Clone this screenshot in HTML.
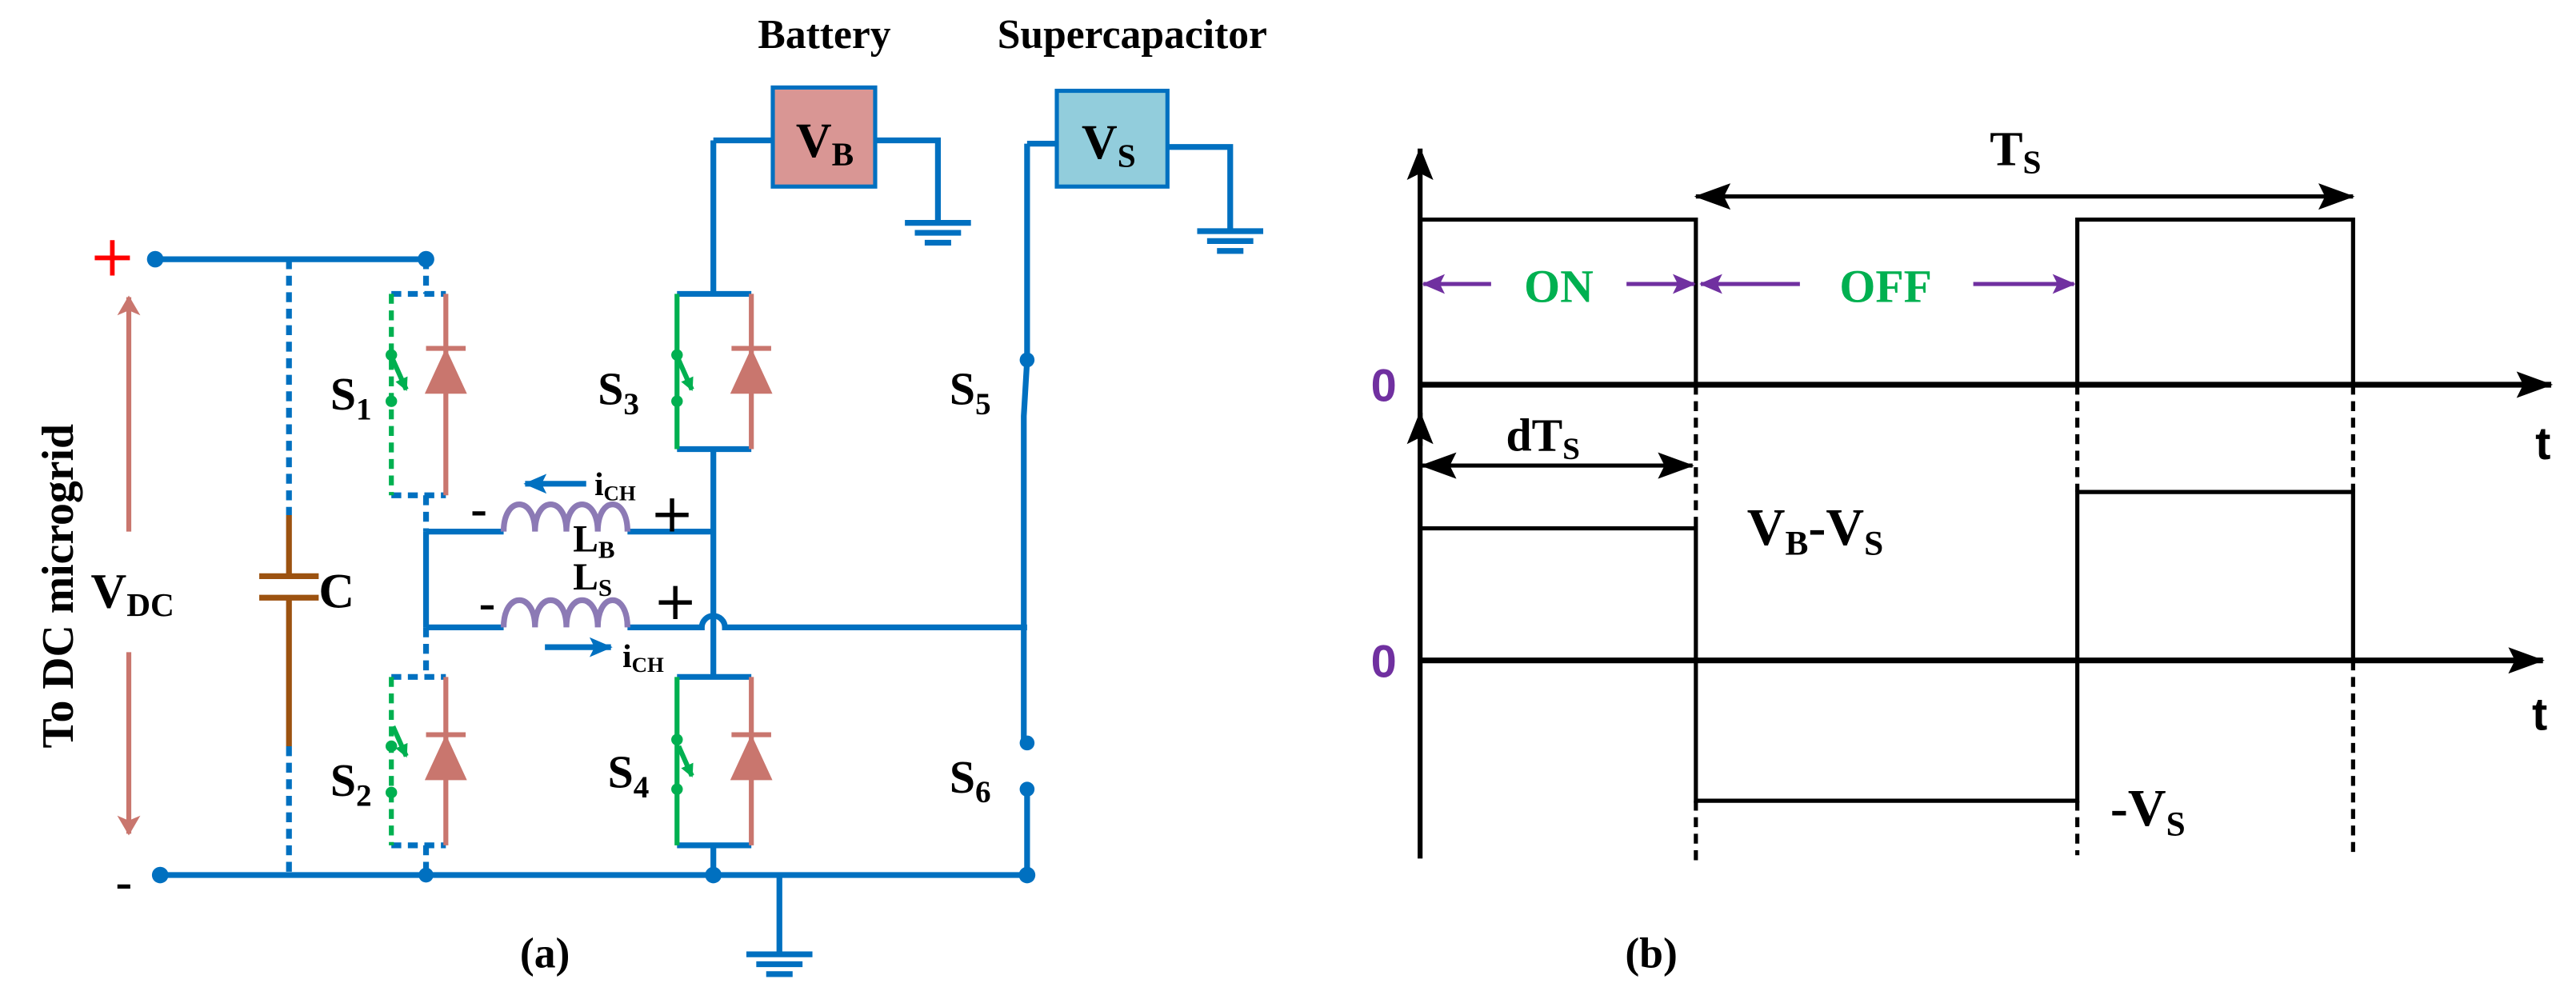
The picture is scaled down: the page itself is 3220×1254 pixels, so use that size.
<!DOCTYPE html>
<html><head><style>html,body{margin:0;padding:0;background:#fff}svg{display:block}</style></head><body>
<svg width="3220" height="1254" viewBox="0 0 1560 607.5" preserveAspectRatio="none" xmlns="http://www.w3.org/2000/svg" font-family="Liberation Serif, serif" font-weight="bold">
<defs>
<marker id="ab" markerWidth="16" markerHeight="20" refX="19" refY="8" orient="auto" markerUnits="userSpaceOnUse"><path d="M0,0 L20,8 L0,16 L4,8z" fill="#000"/></marker>
<marker id="ab2" markerWidth="22" markerHeight="16" refX="21" refY="8" orient="auto-start-reverse" markerUnits="userSpaceOnUse"><path d="M0,0 L22,8 L0,16 L4,8z" fill="#000"/></marker>
<marker id="ap" markerWidth="14" markerHeight="12" refX="13" refY="6" orient="auto-start-reverse" markerUnits="userSpaceOnUse"><path d="M0,0 L14,6 L0,12 L3,6z" fill="#7030a0"/></marker>
<marker id="ar" markerWidth="12" markerHeight="14" refX="11" refY="7" orient="auto-start-reverse" markerUnits="userSpaceOnUse"><path d="M0,0 L12,7 L0,14 L3,7z" fill="#c9766e"/></marker>
<marker id="abl" markerWidth="14" markerHeight="12" refX="13" refY="6" orient="auto" markerUnits="userSpaceOnUse"><path d="M0,0 L14,6 L0,12 L3,6z" fill="#0070c0"/></marker>
<marker id="ag" markerWidth="8" markerHeight="8" refX="7" refY="4" orient="auto" markerUnits="userSpaceOnUse"><path d="M0,0 L8,4 L0,8z" fill="#00b050"/></marker>
</defs>
<g stroke="#0070c0" stroke-width="3.5" fill="none">
<path d="M94,157 H258"/>
<path d="M97,530 H622"/>
<path d="M258,157 V178 M258,300 V322" stroke-dasharray="6,4"/>
<path d="M258,322 V380"/>
<path d="M258,380 V410 M258,512 V530" stroke-dasharray="6,4"/>
<path d="M237,178 H270 M237,300 H270 M237,410 H270 M237,512 H270" stroke-dasharray="6,4"/>
<path d="M175,157 V312 M175,452 V530" stroke-dasharray="6,4"/>
<path d="M258,322 H305 M380,322 H432"/>
<path d="M258,380 H305 M380,380 H425 A7,7 0 0 1 439,380 H622"/>
<path d="M432,85 V178 M410,178 H455 M410,272 H455 M432,272 V410 M410,410 H455 M410,512 H455 M432,512 V530"/>
<path d="M432,85 H468 M530,85 H568 V135"/>
<path d="M548,135 H588 M554,141 H582 M560,147 H576"/>
<path d="M622,87 H640 M707,89 H745 V140"/>
<path d="M725,140 H765 M731,146 H759 M737,152 H753"/>
<path d="M622,87 V218 L620,252 V450 M622,478 V530"/>
<path d="M472,530 V578 M452,578 H492 M458,584 H486 M464,590 H480"/>
</g>
<g fill="#0070c0">
<circle cx="94" cy="157" r="5"/><circle cx="258" cy="157" r="5"/><circle cx="97" cy="530" r="5"/><circle cx="258" cy="530" r="4.5"/><circle cx="432" cy="530" r="5"/><circle cx="622" cy="530" r="5"/><circle cx="622" cy="218" r="4.5"/><circle cx="622" cy="450" r="4.5"/><circle cx="622" cy="478" r="4.5"/>
</g>
<rect x="468" y="53" width="62" height="60" fill="#d99694" stroke="#0070c0" stroke-width="2.5"/>
<rect x="640" y="55" width="67" height="58" fill="#92cddc" stroke="#0070c0" stroke-width="2.5"/>
<g stroke="#00b050" stroke-width="3" fill="none">
<path d="M237,178 V300 M237,410 V512" stroke-dasharray="6,4"/>
<path d="M410,178 V272 M410,410 V512"/>
<path d="M238,218 L246,236" marker-end="url(#ag)"/><path d="M238,440 L246,458" marker-end="url(#ag)"/>
<path d="M411,218 L419,236" marker-end="url(#ag)"/><path d="M411,452 L419,470" marker-end="url(#ag)"/>
</g>
<g fill="#00b050"><circle cx="237" cy="215" r="3.5"/><circle cx="237" cy="243" r="3.5"/><circle cx="237" cy="452" r="3.5"/><circle cx="237" cy="480" r="3.5"/><circle cx="410" cy="215" r="3.5"/><circle cx="410" cy="243" r="3.5"/><circle cx="410" cy="448" r="3.5"/><circle cx="410" cy="478" r="3.5"/></g>
<g stroke="#c9766e" stroke-width="3" fill="#c9766e">
<path d="M270,178 V300 M258,211 H282 M455,178 V272 M443,211 H467 M270,410 V512 M258,445 H282 M455,410 V512 M443,445 H467" fill="none"/>
<path d="M270,212 L258,238 H282z M455,212 L443,238 H467z M270,446 L258,472 H282z M455,446 L443,472 H467z" stroke-width="1"/>
</g>
<g stroke="#9c5210" stroke-width="3.5"><path d="M175,312 V349 M175,362 V452 M157,349 H193 M157,362 H193"/></g>
<g stroke="#8c7ab5" stroke-width="3.5" fill="none">
<path d="M305,322 C305,300 324,300 324,322 C324,300 343,300 343,322 C343,300 362,300 362,322 C362,300 380,300 380,322"/>
<path d="M305,380 C305,358 324,358 324,380 C324,358 343,358 343,380 C343,358 362,358 362,380 C362,358 380,358 380,380"/>
</g>
<g stroke="#0070c0" stroke-width="3.5"><path d="M355,293 H318" marker-end="url(#abl)"/><path d="M330,392 H370" marker-end="url(#abl)"/></g>
<g stroke="#c9766e" stroke-width="3"><path d="M78,322 V180" marker-end="url(#ar)"/><path d="M78,395 V505" marker-end="url(#ar)"/></g>
<g fill="#000">
<text x="68" y="167" fill="#ff0000" font-size="34" font-weight="normal" font-family="DejaVu Sans, sans-serif" text-anchor="middle">+</text>
<text x="75" y="544" font-size="30" text-anchor="middle">-</text>
<text transform="translate(44,355) rotate(-90)" font-size="27" text-anchor="middle">To DC microgrid</text>
<text x="55" y="368" font-size="30">V<tspan font-size="20" dy="5">DC</tspan></text>
<text x="193" y="368" font-size="30">C</text>
<text x="459" y="29" font-size="25">Battery</text>
<text x="604" y="29" font-size="25">Supercapacitor</text>
<text x="482" y="95" font-size="30">V<tspan font-size="20" dy="5">B</tspan></text>
<text x="655" y="96" font-size="30">V<tspan font-size="20" dy="5">S</tspan></text>
<text x="200" y="248" font-size="28">S<tspan font-size="19" dy="6">1</tspan></text>
<text x="200" y="482" font-size="28">S<tspan font-size="19" dy="6">2</tspan></text>
<text x="362" y="245" font-size="28">S<tspan font-size="19" dy="6">3</tspan></text>
<text x="368" y="477" font-size="28">S<tspan font-size="19" dy="6">4</tspan></text>
<text x="575" y="245" font-size="28">S<tspan font-size="19" dy="6">5</tspan></text>
<text x="575" y="480" font-size="28">S<tspan font-size="19" dy="6">6</tspan></text>
<text x="347" y="334" font-size="23">L<tspan font-size="15" dy="4">B</tspan></text>
<text x="347" y="357" font-size="23">L<tspan font-size="15" dy="4">S</tspan></text>
<text x="360" y="300" font-size="20">i<tspan font-size="13" dy="3">CH</tspan></text>
<text x="377" y="404" font-size="20">i<tspan font-size="13" dy="3">CH</tspan></text>
<text x="290" y="318" font-size="30" text-anchor="middle">-</text>
<text x="295" y="375" font-size="30" text-anchor="middle">-</text>
<text x="407" y="322" font-size="32" font-weight="normal" font-family="DejaVu Sans, sans-serif" text-anchor="middle">+</text>
<text x="409" y="375" font-size="32" font-weight="normal" font-family="DejaVu Sans, sans-serif" text-anchor="middle">+</text>
<text x="330" y="586" font-size="26" text-anchor="middle">(a)</text>
<text x="1000" y="586" font-size="26" text-anchor="middle">(b)</text>
</g>
<g stroke="#000" fill="none">
<path d="M860,520 V90" stroke-width="3" marker-end="url(#ab)"/>
<path d="M860,270 V250" stroke-width="3" marker-end="url(#ab)"/>
<path d="M860,233 H1545" stroke-width="3.5" marker-end="url(#ab2)"/>
<path d="M860,400 H1540" stroke-width="3.5" marker-end="url(#ab2)"/>
<path d="M860,133 H1027 V233 M1258,233 V133 H1425 V233" stroke-width="2.5"/>
<path d="M860,320 H1027 V485 H1258 V298 H1425 V400" stroke-width="2.5"/>
<path d="M1027,233 V320 M1027,485 V522 M1258,233 V298 M1258,485 V518 M1425,233 V298 M1425,400 V518" stroke-width="2.5" stroke-dasharray="6,4"/>
<path d="M1027,119 H1425" stroke-width="2.5" marker-start="url(#ab2)" marker-end="url(#ab2)"/>
<path d="M861,282 H1025" stroke-width="2.5" marker-start="url(#ab2)" marker-end="url(#ab2)"/>
</g>
<g stroke="#7030a0" stroke-width="2.5">
<path d="M903,172 H862" marker-end="url(#ap)"/><path d="M985,172 H1026" marker-end="url(#ap)"/>
<path d="M1090,172 H1030" marker-end="url(#ap)"/><path d="M1195,172 H1256" marker-end="url(#ap)"/>
</g>
<g>
<text x="944" y="183" font-size="28" fill="#00b050" text-anchor="middle">ON</text>
<text x="1142" y="183" font-size="28" fill="#00b050" text-anchor="middle">OFF</text>
<text x="838" y="243" font-size="28" fill="#7030a0" font-family="Liberation Sans, sans-serif" text-anchor="middle">0</text>
<text x="838" y="410" font-size="28" fill="#7030a0" font-family="Liberation Sans, sans-serif" text-anchor="middle">0</text>
<text x="1540" y="278" font-size="28" font-family="Liberation Sans, sans-serif" text-anchor="middle">t</text>
<text x="1538" y="442" font-size="28" font-family="Liberation Sans, sans-serif" text-anchor="middle">t</text>
<text x="1205" y="100" font-size="30">T<tspan font-size="20" dy="5">S</tspan></text>
<text x="912" y="273" font-size="28">dT<tspan font-size="19" dy="5">S</tspan></text>
<text x="1058" y="330" font-size="32">V<tspan font-size="21" dy="6">B</tspan><tspan dy="-6">-V</tspan><tspan font-size="21" dy="6">S</tspan></text>
<text x="1278" y="500" font-size="32">-V<tspan font-size="21" dy="6">S</tspan></text>
</g>
</svg>
</body></html>
